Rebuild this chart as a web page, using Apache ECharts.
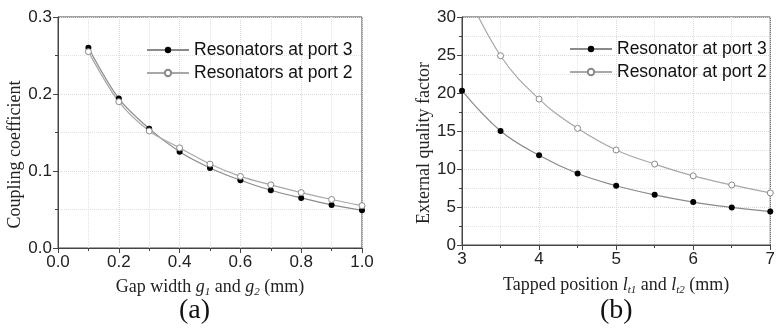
<!DOCTYPE html>
<html>
<head>
<meta charset="utf-8">
<script src="https://cdn.jsdelivr.net/npm/echarts@6/dist/echarts.min.js"></script>
<style>
  html, body { margin: 0; padding: 0; background: #fff; }
  #chart { width: 778px; height: 333px; }
</style>
</head>
<body>
<div id="chart"></div>
<script>
// (a) coupling coefficient vs gap width
const gapWidth = [0.1, 0.2, 0.3, 0.4, 0.5, 0.6, 0.7, 0.8, 0.9, 1.0];
const couplingPort3 = [0.260, 0.194, 0.155, 0.125, 0.104, 0.088, 0.075, 0.065, 0.056, 0.049];
const couplingPort2 = [0.255, 0.190, 0.152, 0.130, 0.109, 0.093, 0.082, 0.072, 0.063, 0.055];

// (b) external quality factor vs tapped position
const tapPosition = [3, 3.5, 4, 4.5, 5, 5.5, 6, 6.5, 7];
const qextPort3 = [20.3, 15.0, 11.8, 9.4, 7.8, 6.6, 5.65, 4.95, 4.4];
const qextPort2 = [34.5, 24.9, 19.2, 15.35, 12.5, 10.65, 9.1, 7.9, 6.85];

const namesA = ['Resonators at port 3', 'Resonators at port 2'];
const namesB = ['Resonator at port 3', 'Resonator at port 2'];

const SANS = 'Liberation Sans, Arial, sans-serif';
const SERIF = 'Liberation Serif, Times New Roman, serif';

const pairs = (xs, ys) => xs.map((x, i) => [x, ys[i]]);

const nameRich = {
  t: { fontFamily: SERIF, fontSize: 18, color: '#222', lineHeight: 22 },
  i: { fontFamily: SERIF, fontSize: 18, fontStyle: 'italic', color: '#222', lineHeight: 22 },
  s: { fontFamily: SERIF, fontSize: 11, fontStyle: 'italic', color: '#222', lineHeight: 11, verticalAlign: 'bottom' }
};

const tickLabel = { fontFamily: SANS, fontSize: 17, color: '#222', margin: 6 };

function valueAxis(gridIndex, min, max, interval, extra) {
  return Object.assign({
    type: 'value', gridIndex, min, max, interval,
    axisLine: { show: true, lineStyle: { color: '#444', width: 1 } },
    axisTick: { show: true, length: 5, lineStyle: { color: '#444' } },
    minorTick: { show: true, splitNumber: 2, length: 3, lineStyle: { color: '#444' } },
    splitLine: { show: true, lineStyle: { color: '#d8d8d8', type: 'dotted' } },
    minorSplitLine: { show: true, lineStyle: { color: '#e2e2e2', type: 'dotted' } },
    axisLabel: tickLabel
  }, extra);
}

function seriesPair(names, xs, a, b, xi, smooth) {
  return [
    {
      name: names[0], type: 'line', xAxisIndex: xi, yAxisIndex: xi,
      data: pairs(xs, a), smooth, symbol: 'circle', symbolSize: 6,
      lineStyle: { color: '#8a8a8a', width: 1.2 },
      itemStyle: { color: '#000', borderColor: '#000', borderWidth: 0 },
      clip: true
    },
    {
      name: names[1], type: 'line', xAxisIndex: xi, yAxisIndex: xi,
      data: pairs(xs, b), smooth, symbol: 'circle', symbolSize: 6,
      lineStyle: { color: '#a8a8a8', width: 1.2 },
      itemStyle: { color: '#fff', borderColor: '#8a8a8a', borderWidth: 1 },
      clip: true
    }
  ];
}

const chart = echarts.init(document.getElementById('chart'), null, { renderer: 'canvas' });

chart.setOption({
  animation: false,
  backgroundColor: '#fff',
  grid: [
    { left: 58, top: 17, width: 304, height: 231, show: true, borderColor: '#444', borderWidth: 1, backgroundColor: 'transparent' },
    { left: 462, top: 17, width: 315, height: 228, show: true, borderColor: '#444', borderWidth: 1, backgroundColor: 'transparent' }
  ],
  legend: [
    {
      data: namesA, orient: 'vertical', left: 141, top: 36, itemWidth: 42, itemHeight: 8, itemGap: 5,
      textStyle: { fontFamily: SANS, fontSize: 17.5, color: '#111' }
    },
    {
      data: namesB, orient: 'vertical', left: 564, top: 35, itemWidth: 42, itemHeight: 8, itemGap: 5,
      textStyle: { fontFamily: SANS, fontSize: 17.5, color: '#111' }
    }
  ],
  xAxis: [
    valueAxis(0, 0, 1, 0.2, {
      name: '{t|Gap width }{i|g}{s|1}{t| and }{i|g}{s|2}{t| (mm)}',
      nameLocation: 'middle', nameGap: 28,
      nameTextStyle: { rich: nameRich },
      axisLabel: Object.assign({}, tickLabel, { formatter: v => v.toFixed(1) })
    }),
    valueAxis(1, 3, 7, 1, {
      name: '{t|Tapped position }{i|l}{s|t1}{t| and }{i|l}{s|t2}{t| (mm)}',
      nameLocation: 'middle', nameGap: 29,
      nameTextStyle: { rich: nameRich }
    })
  ],
  yAxis: [
    valueAxis(0, 0, 0.3, 0.1, {
      name: 'Coupling coefficient', nameLocation: 'middle', nameGap: 34,
      nameTextStyle: { fontFamily: SERIF, fontSize: 18, color: '#222', padding: [0, 44, 0, 0] },
      axisLabel: Object.assign({}, tickLabel, { formatter: v => v.toFixed(1) })
    }),
    valueAxis(1, 0, 30, 5, {
      name: 'External quality factor', nameLocation: 'middle', nameGap: 28,
      nameTextStyle: { fontFamily: SERIF, fontSize: 18, color: '#222', padding: [0, 24, 0, 0] }
    })
  ],
  series: [
    ...seriesPair(namesA, gapWidth, couplingPort3, couplingPort2, 0, 0.3),
    ...seriesPair(namesB, tapPosition, qextPort3, qextPort2, 1, 0.4)
  ],
  graphic: [
    { type: 'text', left: 179, top: 297, style: { text: '(a)', font: '28px ' + SERIF, fill: '#111' } },
    { type: 'text', left: 600, top: 297, style: { text: '(b)', font: '28px ' + SERIF, fill: '#111' } }
  ]
});
</script>
</body>
</html>
